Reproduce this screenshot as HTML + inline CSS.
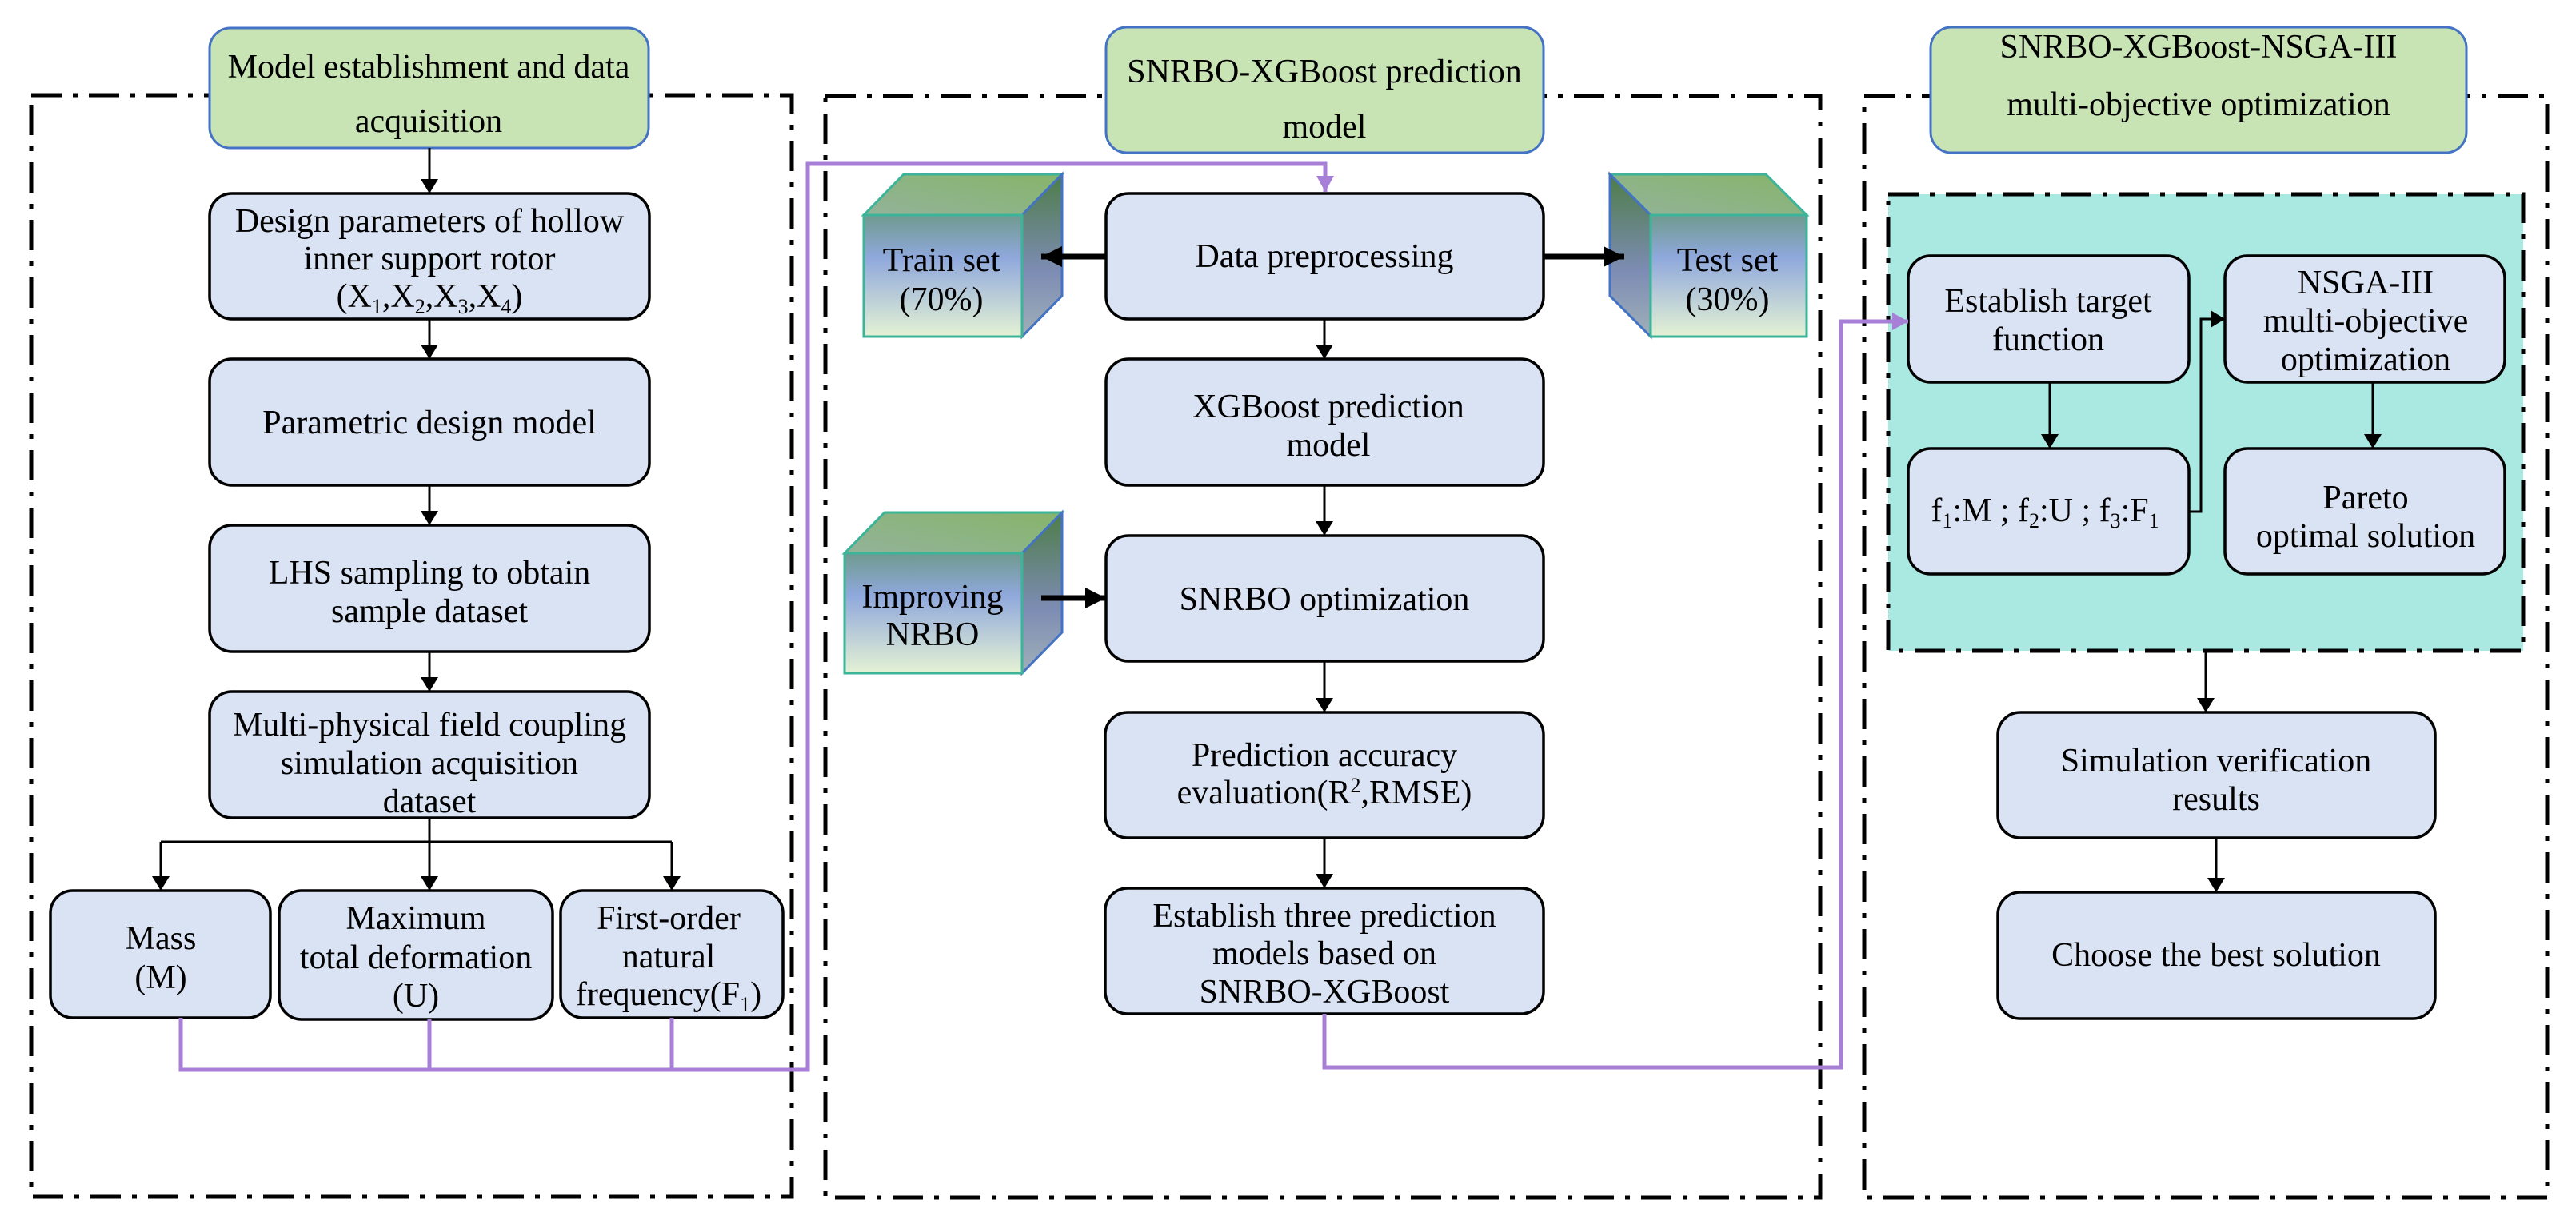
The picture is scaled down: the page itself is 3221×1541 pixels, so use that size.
<!DOCTYPE html>
<html><head><meta charset="utf-8"><style>
html,body{margin:0;padding:0;background:#fff;}
svg{display:block;}
svg text{font-family:"Liberation Serif","DejaVu Serif",serif !important;font-size:42px;fill:#000;text-anchor:middle;}
</style></head><body>
<svg width="3221" height="1541" viewBox="0 0 3221 1541" xmlns="http://www.w3.org/2000/svg" font-family="Liberation Serif, DejaVu Serif, serif">
<defs>
<marker id="a" viewBox="0 0 10 10" refX="10" refY="5" markerWidth="18" markerHeight="22" orient="auto" markerUnits="userSpaceOnUse" preserveAspectRatio="none"><path d="M0,0 L10,5 L0,10 z" fill="#000"/></marker>
<marker id="ab" viewBox="0 0 10 10" refX="10" refY="5" markerWidth="26" markerHeight="26" orient="auto" markerUnits="userSpaceOnUse"><path d="M0,0 L10,5 L0,10 z" fill="#000"/></marker>
<marker id="ap" viewBox="0 0 10 10" refX="10" refY="5" markerWidth="20" markerHeight="22" orient="auto" markerUnits="userSpaceOnUse" preserveAspectRatio="none"><path d="M0,0 L10,5 L0,10 z" fill="#a87fd6"/></marker>
<linearGradient id="gf" x1="0" y1="0" x2="0" y2="1"><stop offset="0" stop-color="#6f9a8e"/><stop offset="0.35" stop-color="#8fa8dc"/><stop offset="1" stop-color="#e4f2d4"/></linearGradient>
<linearGradient id="gt" x1="0" y1="1" x2="1" y2="0"><stop offset="0" stop-color="#93b39a"/><stop offset="1" stop-color="#86b46a"/></linearGradient>
<linearGradient id="gs" x1="0" y1="0" x2="0" y2="1"><stop offset="0" stop-color="#4d7d48"/><stop offset="0.6" stop-color="#7d8cb4"/><stop offset="1" stop-color="#a0b0b8"/></linearGradient>
</defs>
<g fill="none" stroke="#000" stroke-width="5" stroke-dasharray="38 14 6 14">
<rect x="39" y="119" width="951" height="1378"/>
<rect x="1032" y="120" width="1244" height="1378"/>
<rect x="2331" y="120" width="854" height="1378"/>
</g>
<rect x="2361" y="243" width="794" height="571" fill="#aae8e2" stroke="#000" stroke-width="5" stroke-dasharray="38 14 6 14"/>

<g fill="#c9e4b4" stroke="#4472c4" stroke-width="3">
<rect x="262" y="35" width="549" height="150" rx="26"/>
<rect x="1383" y="34" width="547" height="157" rx="26"/>
<rect x="2414" y="34" width="670" height="157" rx="26"/>
</g>
<g font-family="Liberation Serif, DejaVu Serif, serif">
<text x="536" y="97">Model establishment and data</text>
<text x="536" y="165">acquisition</text>
<text x="1656" y="103">SNRBO-XGBoost prediction</text>
<text x="1656" y="172">model</text>
<text x="2749" y="72">SNRBO-XGBoost-NSGA-III</text>
<text x="2749" y="144">multi-objective optimization</text>
</g>

<g fill="#dae3f3" stroke="#000" stroke-width="3.5">
<rect x="262" y="242" width="550" height="157" rx="28"/>
<rect x="262" y="449" width="550" height="158" rx="28"/>
<rect x="262" y="657" width="550" height="158" rx="28"/>
<rect x="262" y="865" width="550" height="158" rx="28"/>
<rect x="63" y="1114" width="275" height="159" rx="28"/>
<rect x="349" y="1114" width="342" height="161" rx="28"/>
<rect x="701" y="1114" width="278" height="159" rx="28"/>
<rect x="1383" y="242" width="547" height="157" rx="28"/>
<rect x="1383" y="449" width="547" height="158" rx="28"/>
<rect x="1383" y="670" width="547" height="157" rx="28"/>
<rect x="1382" y="891" width="548" height="157" rx="28"/>
<rect x="1382" y="1111" width="548" height="157" rx="28"/>
<rect x="2386" y="320" width="351" height="158" rx="28"/>
<rect x="2386" y="561" width="351" height="157" rx="28"/>
<rect x="2782" y="320" width="350" height="158" rx="28"/>
<rect x="2782" y="561" width="350" height="157" rx="28"/>
<rect x="2498" y="891" width="547" height="157" rx="28"/>
<rect x="2498" y="1116" width="547" height="158" rx="28"/>
</g>

<g font-family="Liberation Serif, DejaVu Serif, serif">
<text x="537" y="290">Design parameters of hollow</text>
<text x="537" y="337">inner support rotor</text>
<text x="537" y="384">(X<tspan font-size="26" dy="8">1</tspan><tspan dy="-8">,X</tspan><tspan font-size="26" dy="8">2</tspan><tspan dy="-8">,X</tspan><tspan font-size="26" dy="8">3</tspan><tspan dy="-8">,X</tspan><tspan font-size="26" dy="8">4</tspan><tspan dy="-8">)</tspan></text>
<text x="537" y="542">Parametric design model</text>
<text x="537" y="730">LHS sampling to obtain</text>
<text x="537" y="778">sample dataset</text>
<text x="537" y="920">Multi-physical field coupling</text>
<text x="537" y="968">simulation acquisition</text>
<text x="537" y="1016">dataset</text>
<text x="201" y="1187">Mass</text>
<text x="201" y="1236">(M)</text>
<text x="520" y="1162">Maximum</text>
<text x="520" y="1211">total deformation</text>
<text x="520" y="1259">(U)</text>
<text x="836" y="1162">First-order</text>
<text x="836" y="1210">natural</text>
<text x="836" y="1257">frequency(F<tspan font-size="26" dy="8">1</tspan><tspan dy="-8">)</tspan></text>

<text x="1656" y="334">Data preprocessing</text>
<text x="1661" y="522">XGBoost prediction</text>
<text x="1661" y="570">model</text>
<text x="1656" y="763">SNRBO optimization</text>
<text x="1656" y="958">Prediction accuracy</text>
<text x="1656" y="1005">evaluation(R<tspan font-size="26" dy="-14">2</tspan><tspan dy="14">,RMSE)</tspan></text>
<text x="1656" y="1159">Establish three prediction</text>
<text x="1656" y="1206">models based on</text>
<text x="1656" y="1254">SNRBO-XGBoost</text>

<text x="2561" y="390">Establish target</text>
<text x="2561" y="438">function</text>
<text x="2557" y="652">f<tspan font-size="26" dy="8">1</tspan><tspan dy="-8">:M ; f</tspan><tspan font-size="26" dy="8">2</tspan><tspan dy="-8">:U ; f</tspan><tspan font-size="26" dy="8">3</tspan><tspan dy="-8">:F</tspan><tspan font-size="26" dy="8">1</tspan></text>
<text x="2958" y="367">NSGA-III</text>
<text x="2958" y="415">multi-objective</text>
<text x="2958" y="463">optimization</text>
<text x="2958" y="636">Pareto</text>
<text x="2958" y="684">optimal solution</text>
<text x="2771" y="965">Simulation verification</text>
<text x="2771" y="1013">results</text>
<text x="2771" y="1208">Choose the best solution</text>
</g>

<g stroke-width="3">
<polygon points="1080,269 1130,218 1328,218 1278,269" fill="url(#gt)" stroke="#3cb49a"/>
<polygon points="1278,269 1328,218 1328,370 1278,421" fill="url(#gs)" stroke="#4472c4"/>
<rect x="1080" y="269" width="198" height="152" fill="url(#gf)" stroke="#3cb49a"/>
<polygon points="2064,269 2013,218 2208,218 2259,269" fill="url(#gt)" stroke="#3cb49a"/>
<polygon points="2064,269 2013,218 2013,370 2064,421" fill="url(#gs)" stroke="#4472c4"/>
<rect x="2064" y="269" width="195" height="152" fill="url(#gf)" stroke="#3cb49a"/>
<polygon points="1056,692 1106,641 1328,641 1278,692" fill="url(#gt)" stroke="#3cb49a"/>
<polygon points="1278,692 1328,641 1328,791 1278,842" fill="url(#gs)" stroke="#4472c4"/>
<rect x="1056" y="692" width="222" height="150" fill="url(#gf)" stroke="#3cb49a"/>
</g>
<g font-family="Liberation Serif, DejaVu Serif, serif">
<text x="1177" y="339">Train set</text>
<text x="1177" y="388">(70%)</text>
<text x="2160" y="339">Test set</text>
<text x="2160" y="388">(30%)</text>
<text x="1166" y="760">Improving</text>
<text x="1166" y="807">NRBO</text>
</g>

<g stroke="#000" stroke-width="3" fill="none">
<path d="M537,185 V242" marker-end="url(#a)"/>
<path d="M537,399 V449" marker-end="url(#a)"/>
<path d="M537,607 V657" marker-end="url(#a)"/>
<path d="M537,815 V865" marker-end="url(#a)"/>
<path d="M537,1023 V1114" marker-end="url(#a)"/>
<path d="M201,1053 H840"/>
<path d="M201,1053 V1114" marker-end="url(#a)"/>
<path d="M840,1053 V1114" marker-end="url(#a)"/>
<path d="M1656,399 V449" marker-end="url(#a)"/>
<path d="M1656,607 V670" marker-end="url(#a)"/>
<path d="M1656,827 V891" marker-end="url(#a)"/>
<path d="M1656,1048 V1111" marker-end="url(#a)"/>
<path d="M2563,478 V561" marker-end="url(#a)"/>
<path d="M2967,478 V561" marker-end="url(#a)"/>
<path d="M2737,640 H2752 V399 H2782" marker-end="url(#a)"/>
<path d="M2758,814 V891" marker-end="url(#a)"/>
<path d="M2771,1048 V1116" marker-end="url(#a)"/>
</g>
<g stroke="#000" stroke-width="7" fill="none">
<path d="M1383,321 H1302" marker-end="url(#ab)"/>
<path d="M1930,321 H2031" marker-end="url(#ab)"/>
<path d="M1302,748 H1383" marker-end="url(#ab)"/>
</g>
<g stroke="#a87fd6" stroke-width="5" fill="none">
<path d="M226,1273 V1338 H1010 V205 H1657 V240" marker-end="url(#ap)"/>
<path d="M537,1275 V1338"/>
<path d="M840,1273 V1338"/>
<path d="M1656,1268 V1335 H2302 V402 H2386" marker-end="url(#ap)"/>
</g>
</svg>
</body></html>
